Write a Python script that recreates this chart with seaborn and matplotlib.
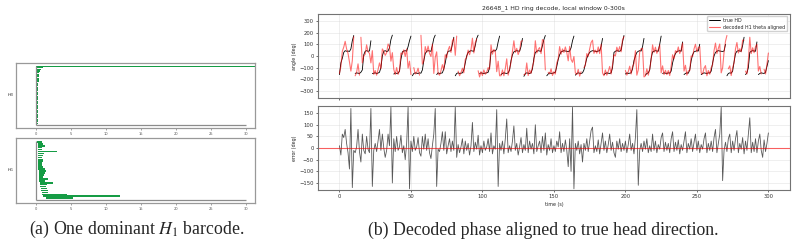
import numpy as np
import pandas as pd
import matplotlib
matplotlib.use("Agg")
import matplotlib.pyplot as plt
import seaborn as sns

# --- HD decode (1 s steps) ---
time_s = list(range(301))

true_hd_deg = [
    -160, -60, -20, 30, 45, 40, 42, 38, 60, 130,
    175, -150, -145, -148, -150, -140, -120, 10, 40, 45,
    40, 42, 130, -150, -148, -145, -150, -147, -140, -100,
    0, 40, 45, 38, 42, 70, 140, 178, -155, -145,
    -150, -148, -130, -30, 35, 42, 45, 40, 80, 130,
    170, -170, -150, -145, -148, -150, -145, -148, -120, -40,
    20, 40, 45, 42, 40, 90, 150, 178, -160, -145,
    -150, -148, -145, -110, -60, 10, 40, 42, 45, 100,
    160, -170, -150, -145, -150, -148, -145, -120, -60, 0,
    30, 40, 45, 42, 40, 90, 150, 178, -150, -145,
    -148, -150, -147, -145, -140, -100, 30, 40, 45, 42,
    60, 120, 170, -160, -150, -145, -148, -150, -145, -120,
    -40, 10, 35, 40, 45, 42, 40, 80, 150, -175,
    -150, -145, -148, -150, -145, -110, -20, 30, 40, 45,
    42, 40, 90, 140, 175, -170, -155, -145, -150, -148,
    -145, -140, -90, -30, 10, 35, 40, 45, 42, 40,
    38, 42, 70, 130, 170, -165, -150, -145, -148, -150,
    -145, -120, -70, -20, 10, 30, 40, 45, 42, 40,
    38, 42, 45, 80, 150, -160, -150, -145, -148, -150,
    -145, -100, 30, 40, 45, 42, 40, 50, 120, 175,
    -155, -145, -150, -148, -145, -110, -40, 0, 30, 40,
    45, 42, 80, 150, -165, -150, -145, -120, -20, 35,
    40, 45, 42, 40, 100, 170, -150, -145, -148, -150,
    -145, -148, -130, -60, -10, 20, 38, 42, 45, 40,
    120, -160, -150, -145, -148, -120, -40, 10, 35, 40,
    45, 42, 100, -160, -150, -145, -148, -150, -145, -147,
    -130, -60, 0, 30, 40, 45, 42, 40, 38, 42,
    100, -170, -150, -145, -148, -130, -50, 20, 40, 45,
    42, 40, 90, 160, -160, -145, -100, 30, 40, 45,
    42, 40, 120, -160, -150, -145, -148, -150, -140, -90,
    -40,
]

err_deg = [
    10, -30, 60, 45, 80, 20, -20, -90, 170, -170,
    -10, -20, 5, 80, -15, -60, 60, -10, -25, 50,
    -5, -20, 170, -165, -10, 20, -15, 30, 80, -10,
    60, 0, -40, -10, 60, 10, 175, -150, 40, -15,
    50, -10, 5, 55, -20, 10, -50, 20, 175, -175,
    30, -15, 50, -10, 5, 45, -20, -35, 50, -5,
    60, -10, 40, -20, -45, 10, 60, 170, -165, -5,
    -15, 20, 70, -10, 70, -25, 10, 40, -15, 30,
    -10, 175, -40, 15, -20, 5, 40, -25, 30, -10,
    20, -30, 10, 110, -15, 25, -5, 55, -30, 10,
    -20, 30, -10, 5, 40, -15, 65, -25, 10, -5,
    165, -165, 20, -10, 30, -25, 40, 125, -20, 10,
    -15, 30, 95, -10, 20, -30, 5, 45, -20, 15,
    -10, 85, -20, 30, -5, 20, -25, 100, -15, 10,
    30, -20, 50, -10, 65, -30, 15, -10, 40, -20,
    10, -15, 30, 5, 70, -20, 20, -15, 35, -10,
    -80, 40, -100, 175, -175, 20, -10, 30, -25, 15,
    -60, 20, -10, 40, -15, 30, 75, 90, -20, 10,
    -15, 35, -25, 20, 65, -10, 30, -20, 15, 60,
    -10, 25, -20, -40, 30, -5, 40, -15, 20, -10,
    30, -20, 15, 60, -10, 20, -25, 45, 165, -160,
    -10, 20, -15, 30, -5, 40, -20, 10, -15, 60,
    -10, 30, -20, 15, -5, 45, 65, -15, 25, -10,
    20, -20, 40, 70, -15, 25, -10, 35, -25, 15,
    -10, 30, 70, -20, 20, -5, 40, -15, 25, 60,
    -10, 30, -20, 15, -5, 40, 65, -20, 20, -10,
    30, -15, 45, 80, -20, 20, 60, 175, -140, -10,
    25, -15, 40, 60, -20, 30, -10, 40, 75, -20,
    20, -5, 45, -25, 30, -10, 60, 130, -20, 25,
    -15, 40, -20, 30, 60, -10, -40, 35, -15, 20,
    65,
]

# --- persistence barcodes (top bar first) ---
h0_death = [np.inf, 0.95, 0.75, 0.62, 0.55, 0.50, 0.46, 0.44, 0.42, 0.40,
            0.39, 0.38, 0.37, 0.36, 0.35, 0.34, 0.33, 0.33, 0.32, 0.31,
            0.30, 0.30, 0.29, 0.28, 0.28, 0.27, 0.27, 0.26, 0.26, 0.25,
            0.25, 0.25, 0.26, 0.26, 0.27, 0.27, 0.28, 0.28, 0.29, 0.30,
            0.30, 0.31, 0.32, 0.33, 0.33]
h0_birth = [0.0] * len(h0_death)

h1_birth = [0.20, 0.24, 0.24, 0.24, 0.24, 0.30, 0.30, 0.30, 0.30, 0.30,
            0.30, 0.35, 0.35, 0.35, 0.35, 0.40, 0.40, 0.45, 0.45, 0.50,
            0.50, 0.55, 0.60, 0.60, 0.65, 0.70, 0.80, 0.90, 1.05, 1.43]
h1_death = [0.80, 0.95, 1.30, 0.80, 0.90, 3.05, 1.15, 1.05, 0.90, 1.05,
            0.95, 0.90, 0.90, 0.95, 1.30, 1.50, 1.30, 1.20, 1.05, 1.76,
            1.30, 2.50, 1.55, 1.40, 1.55, 1.76, 1.76, 4.40, 12.0, 5.24]
bar_max = 30

sns.set_theme(style="ticks")
plt.rcParams['font.family'] = ['DejaVu Sans']

df = pd.DataFrame({"time": time_s, "true": true_hd_deg, "err": err_deg})
df["decoded"] = (df["true"] + df["err"] + 180) % 360 - 180
df["seg"] = (df["true"].diff().abs() > 180).cumsum()
df["seg_dec"] = (df["decoded"].diff().abs() > 250).cumsum()

fig = plt.figure(figsize=(7.97, 2.48), dpi=100)

ax_a = fig.add_axes([0.399, 0.605, 0.592, 0.339])
ax_b = fig.add_axes([0.399, 0.234, 0.592, 0.339], sharex=ax_a)

sns.lineplot(data=df, x="time", y="true", units="seg", estimator=None,
             color="black", lw=0.6, ax=ax_a)
sns.lineplot(data=df, x="time", y="decoded", units="seg_dec", estimator=None,
             color="red", lw=0.8, alpha=0.55, ax=ax_a)
ax_a.plot([], [], color="black", lw=0.7, label="true HD")
ax_a.plot([], [], color="red", lw=0.8, alpha=0.6, label="decoded H1 theta aligned")
ax_a.set_ylim(-360, 360)
ax_a.set_yticks([-300, -200, -100, 0, 100, 200, 300])
ax_a.set_ylabel("angle (deg)", fontsize=3.4, labelpad=2)
ax_a.set_xlabel("")
ax_a.set_title("26648_1 HD ring decode, local window 0-300s", fontsize=4.4, pad=3)
ax_a.legend(loc="upper right", fontsize=3.4, handlelength=2.2, borderpad=0.4,
            labelspacing=0.3, framealpha=0.9)
ax_a.tick_params(labelbottom=False)

sns.lineplot(data=df, x="time", y="err", estimator=None,
             color="black", lw=0.6, alpha=0.65, ax=ax_b)
ax_b.axhline(0, color="red", lw=0.8, alpha=0.6)
ax_b.set_ylim(-180, 181)
ax_b.set_yticks([-150, -100, -50, 0, 50, 100, 150])
ax_b.set_xlim(-15, 315)
ax_b.set_xticks([0, 50, 100, 150, 200, 250, 300])
ax_b.set_ylabel("error (deg)", fontsize=3.4, labelpad=2)
ax_b.set_xlabel("time (s)", fontsize=3.4, labelpad=2)

for ax in (ax_a, ax_b):
    ax.grid(True, color="0.85", lw=0.5, alpha=0.6)
    ax.tick_params(labelsize=3.8, length=1.5, width=0.5, pad=1.5, colors="0.2")
    for s in ax.spines.values():
        s.set_color("0.45")
        s.set_linewidth(0.8)

# --- barcodes ---
bar_green = "#169c45"
ax0 = fig.add_axes([0.020, 0.484, 0.300, 0.262])
ax1 = fig.add_axes([0.020, 0.181, 0.300, 0.262])

n0 = len(h0_death)
y0 = np.arange(n0)[::-1]
d0 = np.where(np.isinf(h0_death), 40.0, h0_death)
ax0.barh(y0, d0 - np.array(h0_birth), left=h0_birth, height=0.8,
         color=bar_green, edgecolor="none")
ax0.hlines(-1.5, 0, bar_max, color="0.55", lw=0.9)
ax0.vlines(0, -1.5, n0 - 0.5, color="0.55", lw=0.9)
ax0.set_ylim(-3.8, n0 + 1.7)
ax0.set_ylabel("$H_0$", fontsize=3.2, labelpad=4, rotation=0, va="center")

n1 = len(h1_death)
y1 = np.arange(n1)[::-1]
ax1.barh(y1, np.array(h1_death) - np.array(h1_birth), left=h1_birth, height=0.85,
         color=bar_green, edgecolor="none")
ax1.hlines(-1, 0, bar_max, color="0.55", lw=0.9)
ax1.vlines(0, -1, n1 - 0.5, color="0.55", lw=0.9)
ax1.set_ylim(-2.5, n1 + 0.9)
ax1.set_ylabel("$H_1$", fontsize=3.2, labelpad=4, rotation=0, va="center")

for ax in (ax0, ax1):
    ax.set_xlim(-2.86, 31.3)
    ax.set_xticks([0, 5, 10, 15, 20, 25, 30])
    ax.set_yticks([])
    ax.tick_params(labelsize=2.6, length=1.2, width=0.4, pad=1.5, colors="0.35")
    for s in ax.spines.values():
        s.set_color("0.6")
        s.set_linewidth(0.9)

fig.text(0.172, 0.073, "(a) One dominant $H_1$ barcode.", ha="center", va="center",
         fontsize=12.8, family=["Liberation Serif"], math_fontfamily="stix")
fig.text(0.681, 0.073, "(b) Decoded phase aligned to true head direction.",
         ha="center", va="center", fontsize=12.8, family=["Liberation Serif"])

fig.savefig("out.png", dpi=100)
